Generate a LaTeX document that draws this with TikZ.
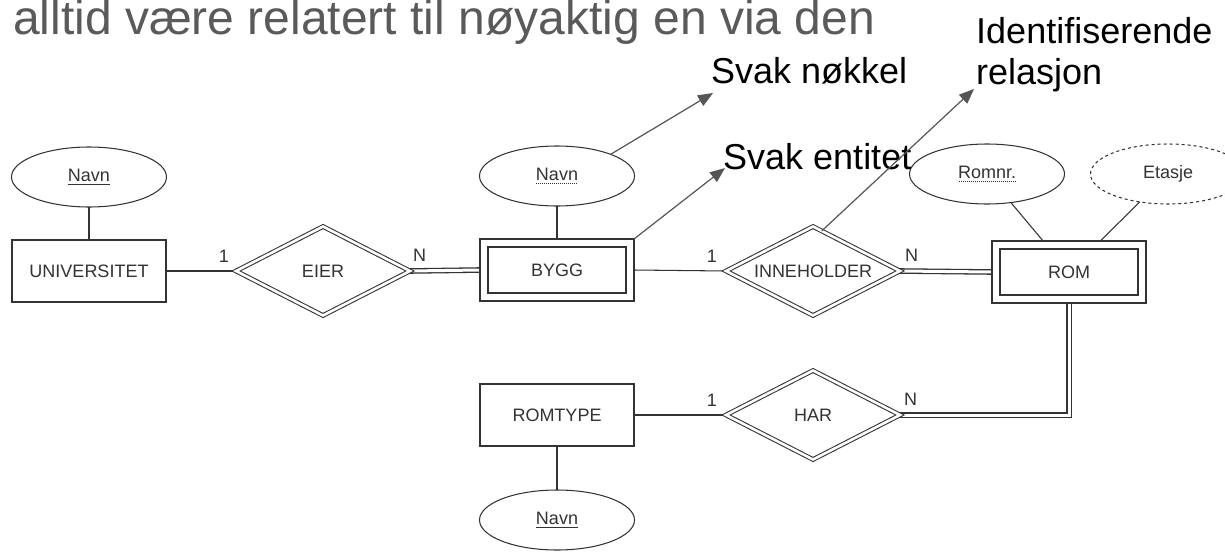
\documentclass[tikz,border=0pt]{standalone}
\usepackage{fontspec}
\setmainfont{Liberation Sans}
\usetikzlibrary{shapes.geometric,arrows.meta,calc,backgrounds}

\definecolor{ink}{HTML}{333333}
\definecolor{headgray}{HTML}{5A5A5A}
\definecolor{arrowgray}{HTML}{555555}

% solid underline for a key attribute, dotted underline for a partial key
\newcommand\keyuline[1]{\setbox0\hbox{#1}\rlap{\raisebox{-3.5pt}{\rule{\wd0}{0.9pt}}}\copy0}
\newcommand\weakuline[1]{\setbox0\hbox{#1}\rlap{\raisebox{-3.5pt}{\hbox to\wd0{\leaders\hbox to 2pt{\hss\rule{1pt}{0.8pt}\hss}\hfill}}}\copy0}

\tikzset{
  er/.style={draw=ink, line width=1.05pt, text=ink, font=\fontsize{18}{21}\selectfont, inner sep=0pt, outer sep=0pt},
  entity/.style={er, rectangle, minimum width=154pt, minimum height=62pt},
  weakentity/.style={entity,
    path picture={\draw[ink, line width=1.05pt]
      ([shift={(8pt,8pt)}]path picture bounding box.south west) rectangle
      ([shift={(-8pt,-8pt)}]path picture bounding box.north east);}},
  attribute/.style={er, ellipse, minimum width=155pt, minimum height=60pt},
  derived/.style={attribute, dash pattern=on 3pt off 3pt},
  relation/.style={er, diamond, aspect=2, double=white, double distance=2.6pt, minimum width=174pt, minimum height=89pt},
  conn/.style={draw=ink, line width=1.05pt},
  dconn/.style={draw=ink, line width=1.3pt, double=white, double distance=3pt},
  card/.style={text=ink, font=\fontsize{18}{21}\selectfont, inner sep=0pt},
  note/.style={text=black, font=\fontsize{36}{41}\selectfont, inner sep=0pt},
  pointer/.style={draw=arrowgray, line width=1.2pt, -{Triangle[length=15pt,width=12pt]}},
}

\begin{document}
\begin{tikzpicture}[x=1pt, y=-1pt]
  \clip (0,0) rectangle (1225,551);
  \begin{pgfonlayer}{background}
    \fill[white] (0,0) rectangle (1225,551);
  \end{pgfonlayer}

  % heading line running off the top edge
  \node[anchor=base west, inner sep=0pt, text=headgray, font=\fontsize{48}{56}\selectfont]
    (head) at (13,35) {alltid være relatert til nøyaktig en via den};

  % entities
  \node[entity] (univ) at (89,271) {UNIVERSITET};
  \node[weakentity] (bygg) at (557,270) {BYGG};
  \node[weakentity] (rom) at (1069,272) {ROM};
  \node[entity] (romtype) at (557,415) {ROMTYPE};

  % relationships
  \node[relation] (eier) at (323,271) {EIER};
  \node[relation] (inn) at (813,271) {INNEHOLDER};
  \node[relation] (har) at (813,415) {HAR};

  % attributes
  \node[attribute] (unavn) at (89,177) {\keyuline{Navn}};
  \node[attribute] (bnavn) at (557,176) {\weakuline{Navn}};
  \node[attribute] (romnr) at (987,174) {\weakuline{Romnr.}};
  \node[derived] (etasje) at (1168,174) {Etasje};
  \node[attribute] (rtnavn) at (557,520) {\keyuline{Navn}};

  % connectors
  \begin{pgfonlayer}{background}
    \draw[conn] (unavn) -- (univ);
    \draw[conn] (univ.east) -- (eier.west);
    \draw[dconn] (eier.east) -- (bygg.west);
    \draw[conn] (bnavn) -- (bygg);
    \draw[conn] (bygg.east) -- (inn.west);
    \draw[dconn] (inn.east) -- (rom.west);
    \draw[conn] (romnr) -- (rom);
    \draw[conn] (etasje) -- (rom);
    \draw[dconn] (rom.south) |- (har.east);
    \draw[conn] (romtype.east) -- (har.west);
    \draw[conn] (romtype) -- (rtnavn);
  \end{pgfonlayer}

  % cardinalities
  \node[card, anchor=south east] at ([shift={(-7pt,8pt)}]eier.west) {1};
  \node[card, anchor=south west] at ([shift={(3pt,9pt)}]eier.east) {N};
  \node[card, anchor=south east] at ([shift={(-9pt,8pt)}]inn.west) {1};
  \node[card, anchor=south west] at ([shift={(5pt,9pt)}]inn.east) {N};
  \node[card, anchor=south east] at ([shift={(-9pt,8pt)}]har.west) {1};
  \node[card, anchor=south west] at ([shift={(4pt,9pt)}]har.east) {N};

  % annotations
  \node[note, anchor=base west] (nkey) at (711,83) {Svak nøkkel};
  \node[note, anchor=base west] (nent) at (723,169) {Svak entitet};
  \node[note, anchor=north west, align=left] (nrel) at (976,17) {Identifiserende\\relasjon};

  \coordinate (tkey) at (713,93);
  \coordinate (tent) at (725,168);
  \coordinate (trel) at (974,89);
  \draw[pointer] (bnavn.22) -- (tkey);
  \draw[pointer] (bygg.north east) -- (tent);
  \draw[pointer] ($(inn.north)!0.1!(inn.east)$) -- (trel);
\end{tikzpicture}
\end{document}
